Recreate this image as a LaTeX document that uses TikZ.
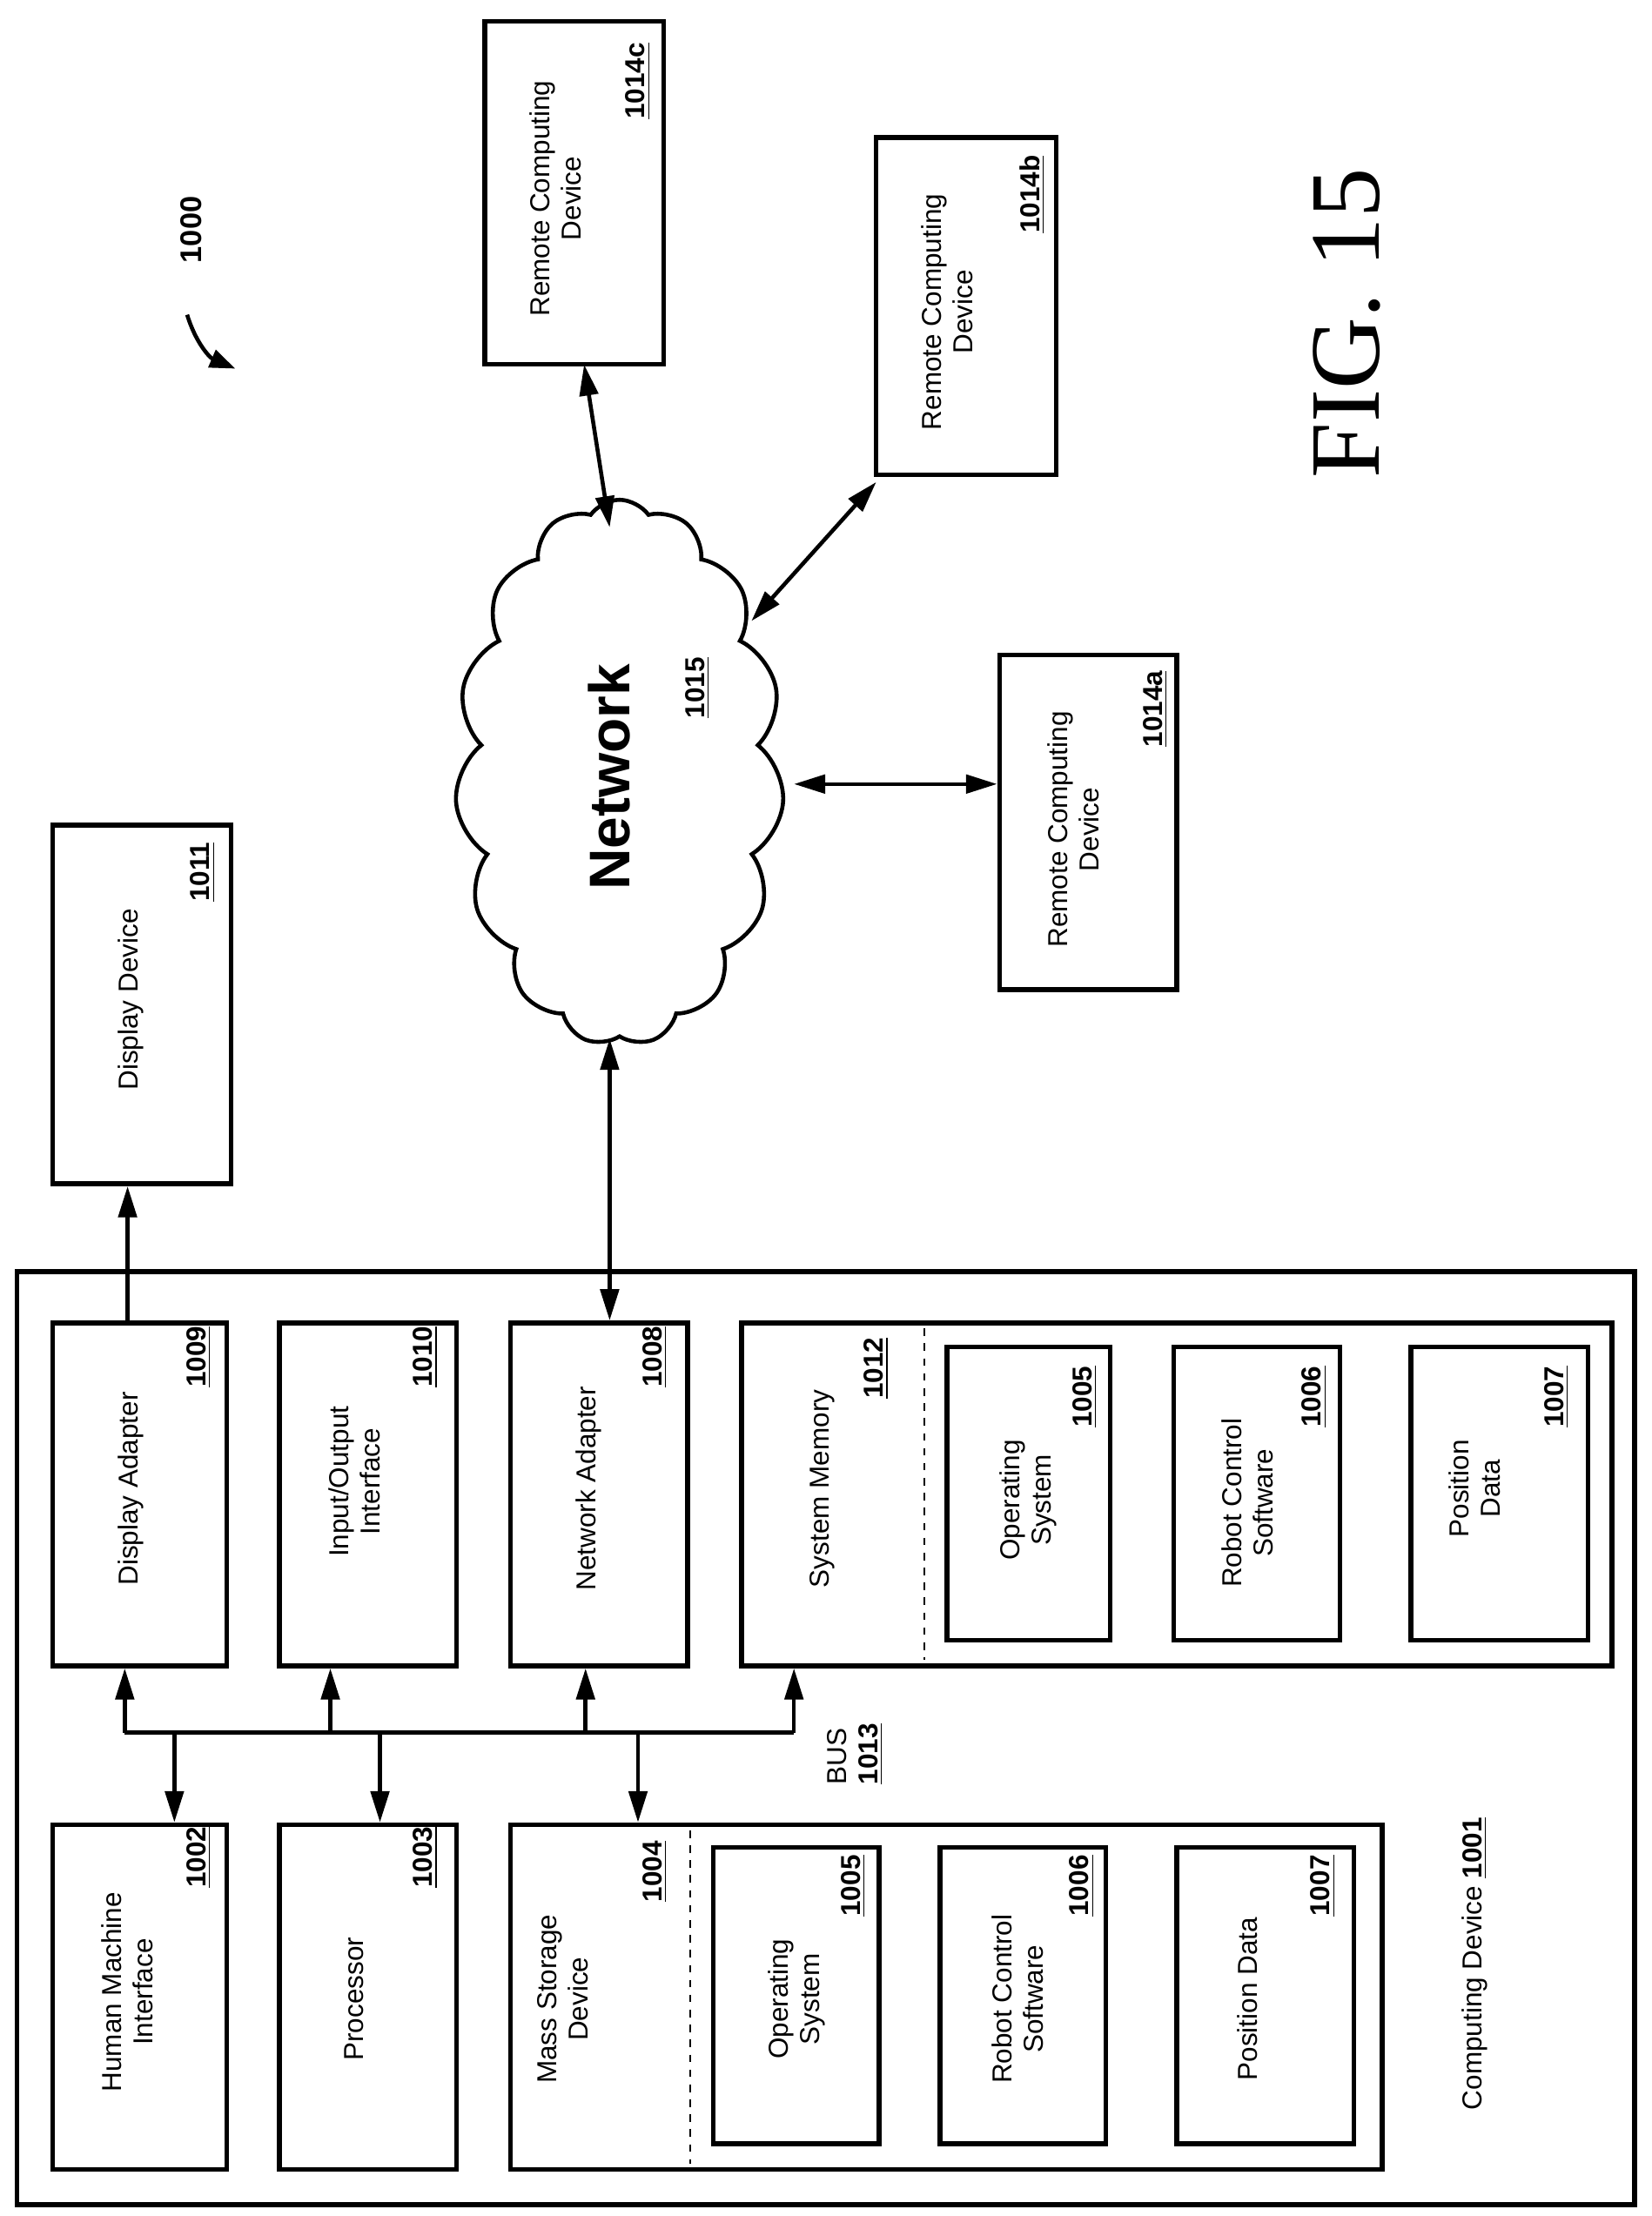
\documentclass[tikz,border=0pt]{standalone}
\usepackage{fontspec}
\setmainfont{Liberation Sans}
\newfontfamily\figfont{Liberation Serif}
\usetikzlibrary{arrows.meta,shapes.symbols}

\begin{document}
\begin{tikzpicture}[x=0.2mm,y=-0.2mm,
  box/.style={draw,line width=1.9pt,rotate=90,inner sep=0pt},
  txt/.style={rotate=90,align=center,font=\fontsize{11}{12.5}\selectfont},
  num/.style={rotate=90,font=\fontsize{11}{12.5}\selectfont\bfseries},
  conn/.style={line width=1.6pt,-{Triangle[length=4.4mm,width=2.6mm]}},
  both/.style={line width=1.6pt,{Triangle[length=4.4mm,width=2.6mm]}-{Triangle[length=4.4mm,width=2.6mm]}}]
  \useasboundingbox (0,0) rectangle (1165,1563);
  % computing device
  \node[box,minimum width=658*0.2mm,minimum height=1141*0.2mm] (cd) at (582.5,1226) {};
  \node[txt] (cdl) at (1040,1385) {Computing Device \underline{\textbf{1001}}};
  % upper row
  \node[box,minimum width=242*0.2mm,minimum height=123*0.2mm] (da) at (98.5,1054) {};
  \node[txt] (dat) at (92,1050) {Display Adapter};
  \node[num] (dan) at (140,957) {\underline{1009}};
  \node[box,minimum width=242*0.2mm,minimum height=125*0.2mm] (io) at (259.5,1054) {};
  \node[txt] (iot) at (250,1045) {Input/Output\\Interface};
  \node[num] (ion) at (300,957) {\underline{1010}};
  \node[box,minimum width=242*0.2mm,minimum height=125*0.2mm] (na) at (422.5,1054) {};
  \node[txt] (nat) at (415,1050) {Network Adapter};
  \node[num] (nan) at (462,957) {\underline{1008}};
  \node[box,minimum width=242*0.2mm,minimum height=614*0.2mm] (sm) at (830,1054) {};
  \node[txt] (smt) at (580,1050) {System Memory};
  \node[num] (smn) at (618,965) {\underline{1012}};
  \draw[dashed,line width=0.8pt] (652,937) -- (652,1171);
  \node[box,minimum width=207*0.2mm,minimum height=115*0.2mm] (os1) at (725.5,1053.5) {};
  \node[txt] (os1t) at (725,1058) {Operating\\System};
  \node[num] (os1n) at (765,985) {\underline{1005}};
  \node[box,minimum width=207*0.2mm,minimum height=117*0.2mm] (rc1) at (886.5,1053.5) {};
  \node[txt] (rc1t) at (880,1060) {Robot Control\\Software};
  \node[num] (rc1n) at (927,985) {\underline{1006}};
  \node[box,minimum width=207*0.2mm,minimum height=125*0.2mm] (pd1) at (1057.5,1053.5) {};
  \node[txt] (pd1t) at (1040,1050) {Position\\Data};
  \node[num] (pd1n) at (1098,985) {\underline{1007}};
  % lower row
  \node[box,minimum width=243*0.2mm,minimum height=123*0.2mm] (hm) at (98.5,1408.5) {};
  \node[txt] (hmt) at (90,1405) {Human Machine\\Interface};
  \node[num] (hmn) at (140,1310) {\underline{1002}};
  \node[box,minimum width=243*0.2mm,minimum height=125*0.2mm] (pr) at (259.5,1408.5) {};
  \node[txt] (prt) at (250,1410) {Processor};
  \node[num] (prn) at (300,1310) {\underline{1003}};
  \node[box,minimum width=243*0.2mm,minimum height=615*0.2mm] (ms) at (667.5,1408.5) {};
  \node[txt] (mst) at (397,1410) {Mass Storage\\Device};
  \node[num] (msn) at (462,1320) {\underline{1004}};
  \draw[dashed,line width=0.8pt] (487,1291) -- (487,1526);
  \node[box,minimum width=209*0.2mm,minimum height=117*0.2mm] (os2) at (561.5,1407.5) {};
  \node[txt] (os2t) at (562,1410) {Operating\\System};
  \node[num] (os2n) at (602,1330) {\underline{1005}};
  \node[box,minimum width=209*0.2mm,minimum height=117*0.2mm] (rc2) at (721.5,1407.5) {};
  \node[txt] (rc2t) at (718,1410) {Robot Control\\Software};
  \node[num] (rc2n) at (763,1330) {\underline{1006}};
  \node[box,minimum width=209*0.2mm,minimum height=125*0.2mm] (pd2) at (892.5,1407.5) {};
  \node[txt] (pd2t) at (880,1410) {Position Data};
  \node[num] (pd2n) at (933,1330) {\underline{1007}};
  % bus
  \coordinate (b1) at (88,1222);
  \coordinate (b2) at (123,1222);
  \coordinate (b3) at (233,1222);
  \coordinate (b4) at (268,1222);
  \coordinate (b5) at (413,1222);
  \coordinate (b6) at (450,1222);
  \coordinate (b7) at (560,1222);
  \draw[line width=1.6pt,line join=round] (b1) -- (b7);
  \draw[conn] (b1) -- (b1 |- da.west);
  \draw[conn] (b3) -- (b3 |- io.west);
  \draw[conn] (b5) -- (b5 |- na.west);
  \draw[conn] (b7) -- (b7 |- sm.west);
  \draw[conn] (b2) -- (b2 |- hm.east);
  \draw[conn] (b4) -- (b4 |- pr.east);
  \draw[conn] (b6) -- (b6 |- ms.east);
  \node[txt,align=left] (bus) at (603,1237) {BUS\\\textbf{\underline{1013}}};
  % display device
  \node[box,minimum width=253*0.2mm,minimum height=126*0.2mm] (dd) at (100,708.5) {};
  \node[txt] (ddt) at (92,705) {Display Device};
  \node[num] (ddn) at (143,615) {\underline{1011}};
  \coordinate (d1) at (90,0);
  \draw[conn] (d1 |- da.east) -- (d1 |- dd.west);
  % network
  \node[cloud,draw,line width=1.6pt,cloud puffs=15,cloud puff arc=110,aspect=0.6,
        minimum width=232*0.2mm,minimum height=385*0.2mm,cloud ignores aspect] (nw) at (437,545) {};
  \node[rotate=90,font=\fontsize{23}{26}\selectfont\bfseries] (nwt) at (430,548) {Network};
  \node[num] (nwn) at (492,485) {\underline{1015}};
  \coordinate (n1) at (430,0);
  \draw[both] (n1 |- na.east) -- (n1 |- nw.south);
  % remote devices
  \node[box,minimum width=236*0.2mm,minimum height=125*0.2mm] (ra) at (767.5,580) {};
  \node[txt] (rat) at (757,585) {Remote Computing\\Device};
  \node[num] (ran) at (815,500) {\underline{1014a}};
  \node[box,minimum width=238*0.2mm,minimum height=127*0.2mm] (rb) at (681.5,216) {};
  \node[txt] (rbt) at (668,220) {Remote Computing\\Device};
  \node[num] (rbn) at (728,137) {\underline{1014b}};
  \node[box,minimum width=242*0.2mm,minimum height=126*0.2mm] (rcd) at (405,136) {};
  \node[txt] (rcdt) at (392,140) {Remote Computing\\Device};
  \node[num] (rcdn) at (450,57) {\underline{1014c}};
  \coordinate (na1) at (560,553);
  \coordinate (nb1) at (530,438);
  \coordinate (nc1) at (430,372);
  \draw[both] (na1) -- (na1 -| ra.north);
  \draw[both] (nb1) -- (618,340);
  \draw[both] (nc1) -- (412,257);
  % reference and figure
  \node[rotate=90,font=\fontsize{12}{14}\selectfont\bfseries] (ref) at (135,162) {1000};
  \draw[line width=1.6pt,-{Triangle[length=3.6mm,width=2.6mm]}] (132,222) to[bend right=25] (166,260);
  \node[rotate=90,font=\fontsize{40}{44}\selectfont\figfont] (fig) at (950,228) {FIG. 15};
\end{tikzpicture}
\end{document}
